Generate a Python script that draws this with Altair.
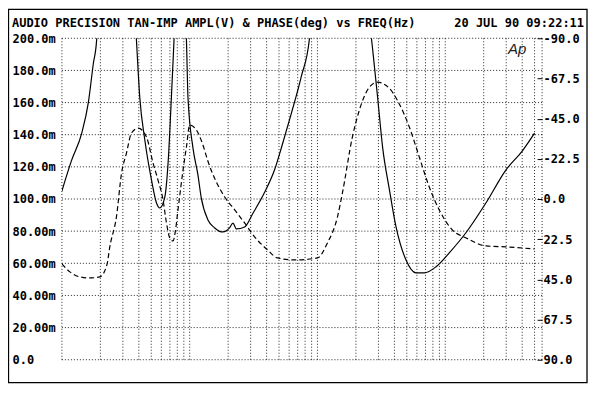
import altair as alt
import pandas as pd

# ---- data ----
# amplitude (solid), frequency in Hz, value in mV (values above 200 are clipped peaks)
AMP_FREQ = [10, 11.9, 14.3, 16.1, 17.6, 18.7, 19.2, 27, 37.3, 38.3, 40.7, 44.5, 50.2, 55.0, 58.3,
            63.8, 67.7, 71.9, 75.4, 77, 85, 92.5, 94.3, 97, 106, 116, 123, 139, 157, 182, 205,
            218, 232, 269, 312, 385, 461, 536, 623, 746, 866, 900, 1700, 2530, 2704, 2958, 3237,
            3652, 4120, 4932, 5904, 6854, 8460, 10750, 14520, 20800, 29800, 40170, 50000]
AMP_MV = [105, 124, 141, 160, 184, 199, 215, 500, 215, 199, 163, 137, 112, 97.5, 94.4,
          101, 122, 163, 199, 215, 400, 215, 199, 163, 132, 115, 101, 87, 82, 79.5, 82,
          85, 81.4, 82.6, 91, 104, 118, 135, 153, 176, 200, 215, 600, 215, 193, 163, 132,
          106, 82.6, 62, 54, 54, 57.8, 66.5, 79, 97.5, 118, 130, 141]

# phase (dashed), frequency in Hz, degrees
PH_FREQ = [10, 11.55, 13.8, 16.5, 19.8, 22.5, 23.7, 26.7, 29.3, 32.0, 35.0, 39.5, 45.9, 51.7,
           56.5, 61.9, 65.8, 69.8, 74.1, 77.1, 81.0, 88.7, 94.3, 100, 113, 127, 138, 188, 225,
           269, 322, 407, 487, 661, 1000, 1197, 1433, 1568, 1876, 2128, 2548, 2942, 3652, 4217,
           5234, 6266, 7499, 8976, 11350, 14590, 20900, 29980, 50000]
PH_DEG = [36.3, 40.8, 43.6, 44.2, 43.6, 36.9, 26.8, 10.1, -14.5, -25.7, -36.9, -39.7, -34.7, -20.1,
          -10.6, 0.6, 13.4, 21.8, 23.5, 18.4, 6.1, -16.2, -29.1, -41.4, -38.6, -30.2, -21.8, -1.1, 6.1,
          13.4, 21.2, 28.5, 33.0, 34.1, 33.0, 24.6, 10.1, -3.4, -34.7, -49.8, -62.6, -65.4, -62.0, -55.3,
          -40.3, -23.5, -6.7, 6.1, 17.3, 21.8, 26.3, 26.8, 28.0]

X_TICK_VALUES = [10, 100, 1000, 10000, 50000]
X_TICK_LABELS = ["10", "100", "1k", "10k", "50k"]
LEFT_TICK_VALUES = [0, 20, 40, 60, 80, 100, 120, 140, 160, 180, 200]
LEFT_TICK_LABELS = ["0.0", "20.00m", "40.00m", "60.00m", "80.00m", "100.0m",
                    "120.0m", "140.0m", "160.0m", "180.0m", "200.0m"]
RIGHT_TICK_VALUES = [-90, -67.5, -45, -22.5, 0, 22.5, 45, 67.5, 90]
RIGHT_TICK_LABELS = ["-90.0", "-67.5", "-45.0", "-22.5", "0.0",
                     "\u00a022.5", "\u00a045.0", "\u00a067.5", "\u00a090.0"]
TITLE_LEFT = "AUDIO PRECISION TAN-IMP AMPL(V) & PHASE(deg) vs FREQ(Hz)"
TITLE_RIGHT = "20 JUL 90 09:22:11"
LOGO = "Ap"

X_MAX = 57260
X_GRID = [m * 10 ** d for d in range(1, 5) for m in range(1, 10) if m * 10 ** d <= 50000] + [X_MAX]


def label_expr(values, labels):
    s = "''"
    for v, l in zip(values, labels):
        s = "datum.value == %s ? '%s' : (%s)" % (v, l, s)
    return s


FONT = "DejaVu Sans Mono"
GRID_DASH = [1, 2]

amp_df = pd.DataFrame({"f": AMP_FREQ, "v": AMP_MV})
ph_df = pd.DataFrame({"f": PH_FREQ, "p": PH_DEG})
xg_df = pd.DataFrame({"f": X_GRID})
yg_df = pd.DataFrame({"v": LEFT_TICK_VALUES})
one = pd.DataFrame({"a": [0]})

x_scale = alt.Scale(type="log", domain=[10, X_MAX], nice=False)
amp_scale = alt.Scale(domain=[0, 200], nice=False, zero=False)

x_enc = alt.X("f:Q", scale=x_scale,
              axis=alt.Axis(values=X_TICK_VALUES, labelExpr=label_expr(X_TICK_VALUES, X_TICK_LABELS),
                            grid=False, ticks=False, domain=False, labelPadding=7, title=None,
                            labelOverlap=False, labelFlush=False, labelBound=False))

vgrid = alt.Chart(xg_df).mark_rule(color="black", strokeWidth=1, strokeDash=GRID_DASH, opacity=0.85).encode(
    x=x_enc)
hgrid = alt.Chart(yg_df).mark_rule(color="black", strokeWidth=1, strokeDash=GRID_DASH, opacity=0.85).encode(
    y=alt.Y("v:Q", scale=amp_scale,
            axis=alt.Axis(orient="left", values=LEFT_TICK_VALUES,
                          labelExpr=label_expr(LEFT_TICK_VALUES, LEFT_TICK_LABELS),
                          labelAlign="left", labelBaseline="middle", labelPadding=50,
                          tickSize=0, domain=False, grid=False, title=None, labelBound=False)))

amp = alt.Chart(amp_df).mark_line(color="black", strokeWidth=1.2, clip=True,
                                  interpolate="monotone").encode(
    x=alt.X("f:Q", scale=x_scale, axis=None),
    y=alt.Y("v:Q", scale=amp_scale, axis=None)
)

ph = alt.Chart(ph_df).mark_line(color="black", strokeWidth=1.2, strokeDash=[5, 3], clip=True,
                                interpolate="monotone").encode(
    x=alt.X("f:Q", scale=x_scale, axis=None),
    y=alt.Y("p:Q", scale=alt.Scale(domain=[-90, 90], reverse=True, nice=False, zero=False),
            axis=alt.Axis(orient="right", values=RIGHT_TICK_VALUES,
                          labelExpr=label_expr(RIGHT_TICK_VALUES, RIGHT_TICK_LABELS),
                          labelAlign="left", labelBaseline="middle", labelPadding=1,
                          tickSize=5, offset=-5, domain=False, grid=False, title=None,
                          tickColor="black", labelBound=False))
)

frame = alt.Chart(one).mark_rect(fill="white", fillOpacity=0, stroke="black", strokeWidth=1.3).encode(
    x=alt.value(-53.5), x2=alt.value(526), y=alt.value(-29), y2=alt.value(345))

t_left = alt.Chart(one).mark_text(font=FONT, fontSize=12, fontWeight="bold", align="left",
                                  baseline="alphabetic", color="black").encode(
    x=alt.value(-50), y=alt.value(-11), text=alt.value(TITLE_LEFT))
t_right = alt.Chart(one).mark_text(font=FONT, fontSize=12, fontWeight="bold", align="right",
                                   baseline="alphabetic", color="black").encode(
    x=alt.value(523), y=alt.value(-11), text=alt.value(TITLE_RIGHT))
logo = alt.Chart(one).mark_text(font="Liberation Sans", fontSize=15, fontStyle="italic",
                                align="center", baseline="middle", color="#222").encode(
    x=alt.value(456), y=alt.value(11), text=alt.value(LOGO))

chart = alt.layer(frame, vgrid, hgrid, t_left, t_right, logo, amp, ph).resolve_scale(
    y="independent").properties(
    width=481, height=322,
    padding={"left": 54, "top": 30, "right": 50, "bottom": 30},
    autosize=alt.AutoSizeParams(type="none"),
    background="white",
).configure_view(stroke=None).configure_axis(
    labelFont=FONT, labelFontSize=12, labelFontWeight="bold", labelColor="black",
)

chart.save("out.html", embed_options={"renderer": "svg", "actions": False})
